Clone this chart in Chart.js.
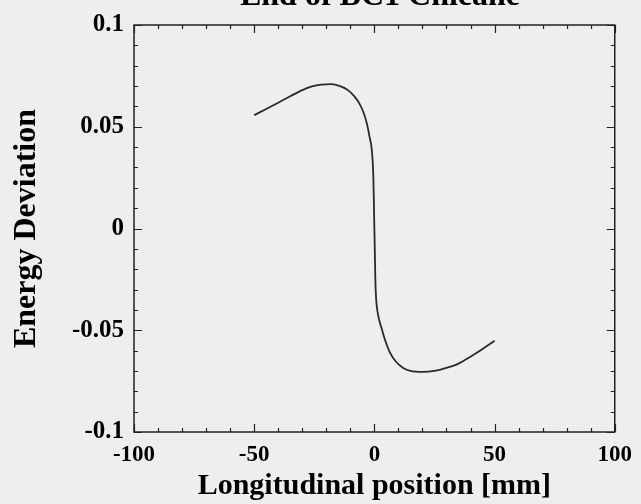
<!DOCTYPE html>
<html>
<head>
<meta charset="utf-8">
<script src="https://cdn.jsdelivr.net/npm/chart.js@4.4.0/dist/chart.umd.min.js"></script>
<style>
html,body{margin:0;padding:0;background:#eeeeee;}
#wrap{width:641px;height:504px;}
</style>
</head>
<body>
<div id="wrap"><canvas id="c" width="641" height="504"></canvas></div>
<script>
const chartTitle = "End of BC1 Chicane";
const xTitle = "Longitudinal position [mm]";
const yTitle = "Energy Deviation";
const positionMm = [-50, -45, -40, -35, -30, -26, -22, -18, -14, -11, -8.5, -6.5, -4.5, -3, -2, -1.2, -0.7, -0.4, -0.2, 0, 0.2, 0.4, 0.7, 1.2, 2, 3, 4.5, 6.5, 9, 12, 15, 20, 25, 30, 35, 40, 45, 50];
const energyDev = [0.0557, 0.0587, 0.0618, 0.0650, 0.0680, 0.0698, 0.0707, 0.0709, 0.0698, 0.0680, 0.0652, 0.0620, 0.0570, 0.0510, 0.0450, 0.0400, 0.0330, 0.0240, 0.0120, 0, -0.0120, -0.0250, -0.0340, -0.0400, -0.0450, -0.0490, -0.0550, -0.0610, -0.0655, -0.0685, -0.0700, -0.0705, -0.0700, -0.0685, -0.0664, -0.0630, -0.0592, -0.0552];
const xTickLabels = [-100, -50, 0, 50, 100];
const yTickLabels = ["-0.1", "-0.05", "0", "0.05", "0.1"];
const xMinorTicks = [-100,-90,-80,-70,-60,-50,-40,-30,-20,-10,0,10,20,30,40,50,60,70,80,90,100];
const yMinorTicks = [-0.1,-0.09,-0.08,-0.07,-0.06,-0.05,-0.04,-0.03,-0.02,-0.01,0,0.01,0.02,0.03,0.04,0.05,0.06,0.07,0.08,0.09,0.1];

const points = positionMm.map((x, i) => ({x: x, y: energyDev[i]}));
const serif = "'Liberation Serif', 'DejaVu Serif', serif";

const framePlugin = {
  id: 'frame',
  beforeDraw(chart) {
    const ctx = chart.ctx;
    ctx.save();
    ctx.fillStyle = '#eeeeee';
    ctx.fillRect(0, 0, chart.width, chart.height);
    ctx.restore();
  },
  afterDraw(chart) {
    const ctx = chart.ctx;
    const a = chart.chartArea;
    const xs = chart.scales.x, ys = chart.scales.y;
    ctx.save();
    ctx.strokeStyle = '#222';
    ctx.lineWidth = 1.5;
    ctx.strokeRect(a.left, a.top, a.right - a.left, a.bottom - a.top);
    ctx.lineWidth = 1.2;
    ctx.beginPath();
    xMinorTicks.forEach(v => {
      const px = Math.round(xs.getPixelForValue(v)) + 0.5;
      const len = (Math.abs(v) % 50 === 0) ? 8 : 4;
      ctx.moveTo(px, a.bottom); ctx.lineTo(px, a.bottom - len);
      ctx.moveTo(px, a.top); ctx.lineTo(px, a.top + len);
    });
    yMinorTicks.forEach(v => {
      const py = Math.round(ys.getPixelForValue(v)) + 0.5;
      const major = Math.abs(Math.round(v * 1000)) % 50 === 0;
      const len = major ? 8 : 4;
      ctx.moveTo(a.left, py); ctx.lineTo(a.left + len, py);
      ctx.moveTo(a.right, py); ctx.lineTo(a.right - len, py);
    });
    ctx.stroke();
    ctx.fillStyle = '#000';
    ctx.font = "bold 32px " + serif;
    ctx.textAlign = 'center';
    ctx.textBaseline = 'alphabetic';
    ctx.fillText(chartTitle, 380, 5);
    ctx.restore();
  }
};

new Chart(document.getElementById('c'), {
  type: 'scatter',
  data: {
    datasets: [{
      data: points,
      showLine: true,
      borderColor: '#2a2a2a',
      borderWidth: 1.8,
      pointRadius: 0,
      cubicInterpolationMode: 'monotone',
      fill: false
    }]
  },
  options: {
    responsive: false,
    animation: false,
    devicePixelRatio: 1,
    layout: { padding: { top: 21, right: 22, left: 0, bottom: 0 } },
    plugins: { legend: { display: false }, tooltip: { enabled: false }, title: { display: false } },
    scales: {
      x: {
        type: 'linear',
        min: -100, max: 100,
        afterFit(scale) { scale.height = 72; },
        afterBuildTicks(scale) { scale.ticks = xTickLabels.map(v => ({value: v})); },
        grid: { display: false, drawTicks: false },
        border: { display: false },
        ticks: {
          padding: 9,
          color: '#000',
          font: { family: serif, size: 23, weight: 'bold' },
          maxRotation: 0,
          autoSkip: false,
          callback: (v) => String(v)
        },
        title: {
          display: true,
          text: xTitle,
          color: '#000',
          font: { family: serif, size: 30, weight: 'bold' },
          padding: { top: 0, bottom: 0 }
        }
      },
      y: {
        type: 'linear',
        min: -0.1, max: 0.1,
        afterFit(scale) { scale.width = 134; },
        afterBuildTicks(scale) { scale.ticks = yTickLabels.map(v => ({value: parseFloat(v)})); },
        grid: { display: false, drawTicks: false },
        border: { display: false },
        ticks: {
          padding: 10,
          color: '#000',
          font: { family: serif, size: 25, weight: 'bold' },
          autoSkip: false,
          callback: (v, i) => yTickLabels[i]
        },
        title: {
          display: true,
          text: yTitle,
          color: '#000',
          font: { family: serif, size: 32, weight: 'bold' },
          padding: { top: 8, bottom: 0 }
        }
      }
    }
  },
  plugins: [framePlugin]
});
</script>
</body>
</html>
